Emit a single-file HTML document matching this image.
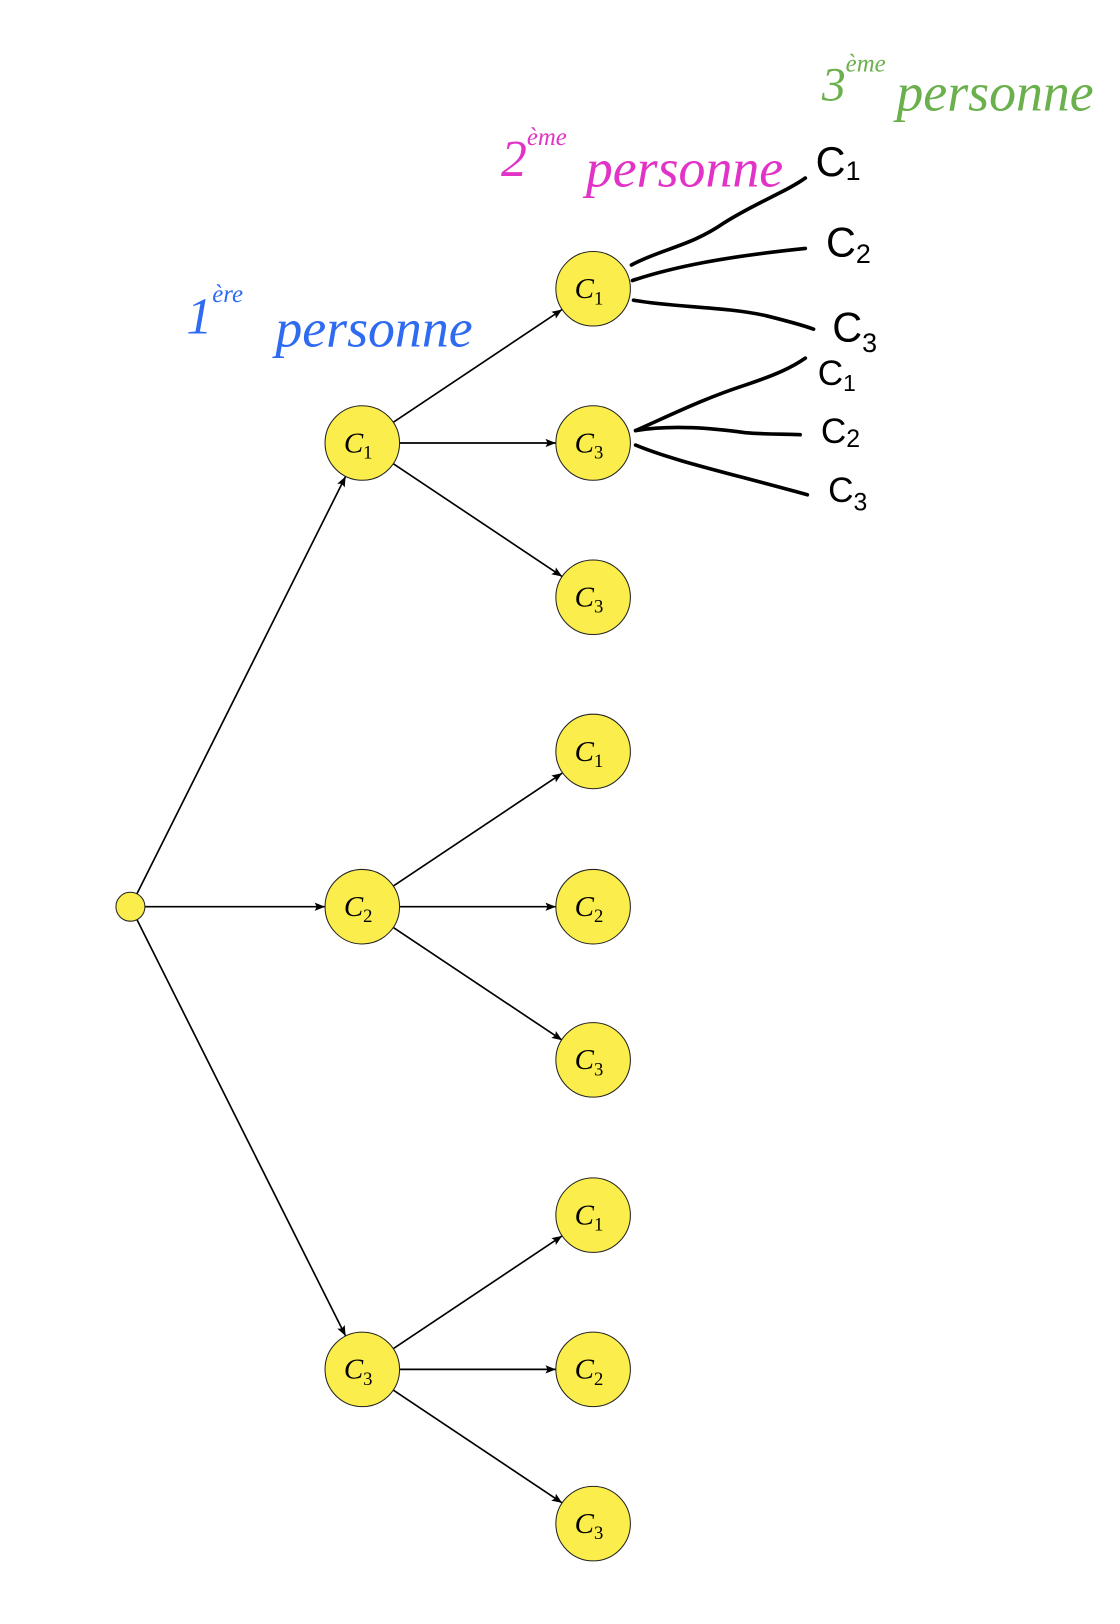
<!DOCTYPE html>
<html><head><meta charset="utf-8"><style>html,body{margin:0;padding:0;background:#fff}svg{display:block}</style></head><body>
<svg width="1120" height="1624" viewBox="0 0 1082 1569" preserveAspectRatio="none" xmlns="http://www.w3.org/2000/svg">
<defs><marker id="a" markerUnits="userSpaceOnUse" markerWidth="12" markerHeight="10" refX="10" refY="4" orient="auto"><path d="M0,0 L10,4 L0,8 L2,4 z" fill="#000"/></marker></defs>
<g stroke="#000" stroke-width="1.6" fill="none" marker-end="url(#a)">
<line x1="132.3" y1="863.5" x2="333.9" y2="460.2"/>
<line x1="140" y1="876" x2="314" y2="876"/>
<line x1="132.3" y1="888.5" x2="333.9" y2="1290.8"/>
<g id="g1">
<line x1="379.9" y1="408" x2="543.1" y2="299"/>
<line x1="386" y1="428" x2="537" y2="428"/>
<line x1="379.9" y1="448" x2="543.1" y2="557"/>
</g>
<use href="#g1" y="448"/>
<use href="#g1" y="895"/>
</g>
<g fill="#fbed4b" stroke="#222" stroke-width="1">
<circle cx="126" cy="876" r="14"/>
<circle cx="350" cy="428" r="36"/><circle cx="350" cy="876" r="36"/><circle cx="350" cy="1323" r="36"/>
<circle cx="573" cy="279" r="36"/><circle cx="573" cy="428" r="36"/><circle cx="573" cy="577" r="36"/>
<circle cx="573" cy="726" r="36"/><circle cx="573" cy="876" r="36"/><circle cx="573" cy="1024" r="36"/>
<circle cx="573" cy="1174" r="36"/><circle cx="573" cy="1323" r="36"/><circle cx="573" cy="1472" r="36"/>
</g>
<g font-family="Liberation Serif, serif" font-size="28" font-style="italic" text-anchor="middle">
<text x="346" y="437">C<tspan font-style="normal" font-size="18" dy="6">1</tspan></text>
<text x="346" y="885">C<tspan font-style="normal" font-size="18" dy="6">2</tspan></text>
<text x="346" y="1332">C<tspan font-style="normal" font-size="18" dy="6">3</tspan></text>
<text x="569" y="288">C<tspan font-style="normal" font-size="18" dy="6">1</tspan></text>
<text x="569" y="437">C<tspan font-style="normal" font-size="18" dy="6">3</tspan></text>
<text x="569" y="586">C<tspan font-style="normal" font-size="18" dy="6">3</tspan></text>
<text x="569" y="735">C<tspan font-style="normal" font-size="18" dy="6">1</tspan></text>
<text x="569" y="885">C<tspan font-style="normal" font-size="18" dy="6">2</tspan></text>
<text x="569" y="1033">C<tspan font-style="normal" font-size="18" dy="6">3</tspan></text>
<text x="569" y="1183">C<tspan font-style="normal" font-size="18" dy="6">1</tspan></text>
<text x="569" y="1332">C<tspan font-style="normal" font-size="18" dy="6">2</tspan></text>
<text x="569" y="1481">C<tspan font-style="normal" font-size="18" dy="6">3</tspan></text>
</g>
<g stroke="#000" stroke-width="3.5" fill="none" stroke-linecap="round">
<path d="M610,256 C640,240 667,238 700,215 C730,196 760,185 778,172"/>
<path d="M611,271 C650,258 700,248 778,240"/>
<path d="M612,290 C650,297 700,296 740,305 C760,310 775,314 786,318"/>
<path d="M614,416 C650,400 680,385 720,372 C750,362 765,355 778,346"/>
<path d="M614,416 C650,410 690,414 720,418 C745,420 760,419 773,420"/>
<path d="M614,430 C650,445 700,456 780,478"/>
</g>
<g font-family="Liberation Sans, sans-serif" font-size="40" fill="#000">
<text x="788" y="170">C<tspan font-size="26" dy="4">1</tspan></text>
<text x="798" y="248">C<tspan font-size="26" dy="6">2</tspan></text>
<text x="804" y="330">C<tspan font-size="26" dy="10">3</tspan></text>
<text x="790" y="372" font-size="34">C<tspan font-size="22" dy="6">1</tspan></text>
<text x="793" y="428" font-size="34">C<tspan font-size="24" dy="4">2</tspan></text>
<text x="800" y="485" font-size="34">C<tspan font-size="24" dy="8">3</tspan></text>
</g>
<g font-family="Liberation Serif, serif" font-style="italic">
<text x="180" y="322" font-size="50" fill="#2f6bf0">1<tspan font-size="24" dy="-30">ère</tspan></text>
<text x="266" y="335" font-size="52" fill="#2f6bf0">personne</text>
<text x="484" y="170" font-size="50" fill="#e233c8">2<tspan font-size="24" dy="-30">ème</tspan></text>
<text x="566" y="180" font-size="52" fill="#e233c8">personne</text>
<text x="794" y="97" font-size="46" fill="#6ab04c">3<tspan font-size="24" dy="-28">ème</tspan></text>
<text x="866" y="107" font-size="52" fill="#6ab04c">personne</text>
</g>
</svg>
</body></html>
